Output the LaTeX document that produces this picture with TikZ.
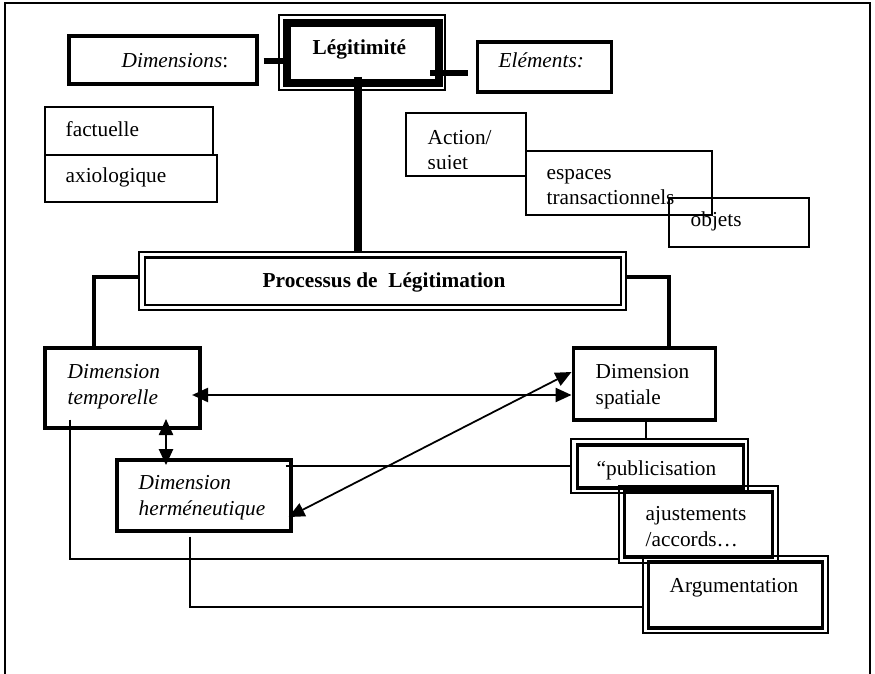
\documentclass[tikz,border=0pt]{standalone}
\usepackage{fontspec}
\setmainfont{Liberation Serif}
\usetikzlibrary{fit,arrows.meta}

\tikzset{every picture/.style={line width=0.8pt}}
\tikzset{
  frm/.style={draw, inner sep=0pt, line width=1.7pt},
  frmthin/.style={draw, inner sep=0pt, line width=1.1pt},
  frmproc/.style={draw, inner sep=0pt, line width=1.5pt},
  dblout/.style={draw, inner sep=0pt, line width=1.3pt},
  dblin/.style={draw, inner sep=0pt, line width=1.7pt},
  lbl/.style={anchor=base west, inner sep=0pt, align=left, font=\fontsize{12}{14.1}\selectfont},
  wire/.style={line width=0.8pt},
  bar/.style={line width=2.2pt},
  fat/.tip={Triangle[length=9pt,width=8pt]},
  twoway/.style={line width=1pt, fat-fat},
}

\begin{document}
\begin{tikzpicture}[x=0.5634pt,y=0.5634pt,yscale=-1,xscale=1]
		\useasboundingbox (0,0) rectangle (875,674);
		
		%Outer frame
		\draw [line width=0.9pt] (5,690) -- (5,3) -- (870,3) -- (870,690) ;
		
		%Shape: Rectangle [Légitimité]
		\node [draw, inner sep=0pt, line width=0.6pt, fit={(279,15) (445,90)}] (legitout) {};
		\node [draw, inner sep=0pt, line width=4.5pt, fit={(287,23) (439,83)}] (legit) {};
		%Shape: Rectangle [left and right labels]
		\node [frm, fit={(69,36) (257,84)}] (dims) {};
		\node [frm, fit={(477,42) (611,92)}] (elems) {};
		%Shape: Rectangle [dimensions]
		\node [frmthin, fit={(45,107) (213,155)}] (fact) {};
		\node [frmthin, fit={(45,155) (217,202)}] (axio) {};
		%Shape: Rectangle [elements]
		\node [frmthin, fit={(406,113) (526,176)}] (action) {};
		\node [frmthin, fit={(526,151) (712,215)}] (espaces) {};
		\node [frmthin, fit={(669,198) (809,247)}] (objets) {};
		%Shape: Rectangle [Processus]
		\node [frmproc, fit={(139,252) (626,310)}] (processout) {};
		\node [frmproc, fit={(145,257.5) (621,305)}] (process) {};
		%Shape: Rectangle [three dimensions]
		\node [frm, fit={(45,348) (200,428)}] (temp) {};
		\node [frm, fit={(573,348) (715,420)}] (spat) {};
		\node [frm, fit={(117,460) (291,531)}] (herm) {};
		%Shape: Rectangle [double boxes]
		\node [dblout, fit={(571,439) (748,493)}] (publiout) {};
		\node [dblin, fit={(577,445) (743,488)}] (publi) {};
		\node [dblout, fit={(619,486) (778,563)}] (ajustout) {};
		\node [dblin, fit={(624,492) (772,557)}] (ajust) {};
		\node [dblout, fit={(643,556) (828,633)}] (arguout) {};
		\node [dblin, fit={(648,562) (822,628)}] (argu) {};
		
		%Straight Lines [thick links]
		\draw [line width=3.8pt] (dims.east |- 0,61) ++(5,0) -- (legit.west |- 0,61) ;
		\draw [line width=3.8pt, shorten <=-7.3pt, shorten >=4.2pt] (legit.east |- 0,73) -- (elems.west |- 0,73) ;
		\draw [line width=4.3pt] (358,0 |- legit.south) ++(0,-10) -- (358,0 |- processout.north) ;
		\draw [bar] (processout.west |- 0,277) -| (94,0 |- temp.north) ;
		\draw [bar] (processout.east |- 0,277) -| (669,0 |- spat.north) ;
		
		%Straight Lines [arrows]
		\draw [twoway, shorten <=-5.3pt] (temp.east |- 0,395) -- (spat.west |- 0,395) ;
		\draw [twoway, shorten <=-2.5pt] (herm.east |- 0,515) -- (spat.west |- 0,372) ;
		\draw [twoway, shorten <=-5.9pt, shorten >=-3.7pt] (166,0 |- temp.south) -- (166,0 |- herm.north) ;
		
		%Straight Lines [thin links]
		\draw [wire] (herm.east |- 0,466) ++(-7,0) -- (publiout.west |- 0,466) ;
		\draw [wire] (646,0 |- spat.south) -- (646,0 |- publiout.north) ;
		\draw [wire] (70,0 |- temp.south) ++(0,-10) |- (ajustout.west |- 0,559) ;
		\draw [wire] (190,0 |- herm.south) ++(0,4) |- (arguout.west |- 0,607) ;
		
		% Text Node
		\node [lbl] (legit-t) at (312,55) {\textbf{Légitimité}};
		% Text Node
		\node [lbl] (dims-t) at (121,68) {\textit{Dimensions}:};
		% Text Node
		\node [lbl] (elems-t) at (498,68) {\textit{Eléments:}};
		% Text Node
		\node [lbl] (fact-t) at (65,137) {factuelle};
		% Text Node
		\node [lbl] (axio-t) at (65,183) {axiologique};
		% Text Node
		\begin{scope}
			\clip (406,113) rectangle (526,168.5);
			\node [lbl] (action-t) at (427,170) {Action/\\sujet};
		\end{scope}
		% Text Node
		\node [lbl] (espaces-t) at (546,205) {espaces\\transactionnels};
		% Text Node
		\node [lbl] (objets-t) at (690,227) {objets};
		% Text Node
		\node [lbl] (process-t) at (262,287) {\textbf{Processus de~~Légitimation}};
		% Text Node
		\node [lbl] (temp-t) at (67,404) {\textit{Dimension}\\\textit{temporelle}};
		% Text Node
		\node [lbl] (spat-t) at (595,404) {Dimension\\spatiale};
		% Text Node
		\node [lbl] (herm-t) at (138,515) {\textit{Dimension}\\\textit{herméneutique}};
		% Text Node
		\node [lbl] (publi-t) at (596,475) {“publicisation};
		% Text Node
		\node [lbl] (ajust-t) at (645,546) {ajustements\\/accords…};
		% Text Node
		\node [lbl] (argu-t) at (669,592) {Argumentation};
\end{tikzpicture}
\end{document}
